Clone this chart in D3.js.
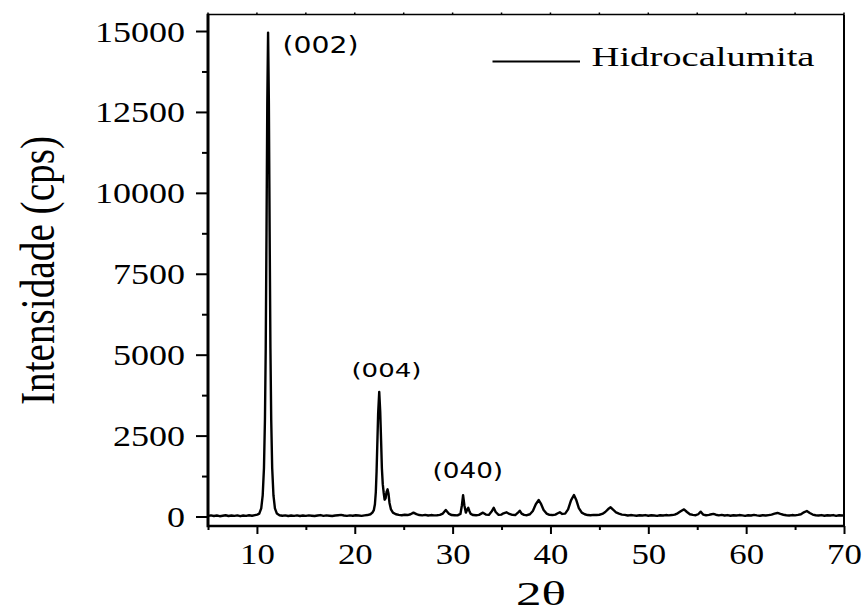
<!DOCTYPE html>
<html>
<head>
<meta charset="utf-8">
<script src="https://cdn.jsdelivr.net/npm/d3@7"></script>
<style>
  body { margin: 0; background: #fff; }
  svg { display: block; }
</style>
</head>
<body>
<svg id="chart" width="865" height="614"></svg>
<script>
// XRD scan of hydrocalumite: 2θ (degrees) and intensity (counts per second)
const twoTheta = [
  5.0, 5.3, 5.6, 5.9, 6.2, 6.5, 6.8, 7.1, 7.4, 7.7,
  8.0, 8.3, 8.6, 8.9, 9.2, 9.5, 9.8, 10.04, 10.24, 10.44,
  10.59, 10.72, 10.82, 10.9, 10.98, 11.06, 11.14, 11.22, 11.3, 11.38,
  11.46, 11.56, 11.69, 11.84, 12.04, 12.3, 12.6, 12.9, 13.2, 13.5,
  13.8, 14.1, 14.4, 14.7, 15.0, 15.3, 15.6, 15.9, 16.2, 16.5,
  16.8, 17.1, 17.4, 17.7, 18.0, 18.3, 18.6, 18.9, 19.2, 19.5,
  19.8, 20.1, 20.4, 20.7, 21.0, 21.3, 21.6, 21.8, 21.95, 22.06,
  22.15, 22.23, 22.31, 22.39, 22.5, 22.6, 22.69, 22.77, 22.86, 22.95,
  23.05, 23.15, 23.25, 23.35, 23.45, 23.55, 23.7, 23.9, 24.2, 24.5,
  24.8, 25.1, 25.4, 25.7, 26.0, 26.3, 26.6, 26.9, 27.2, 27.5,
  27.8, 28.1, 28.4, 28.7, 29.0, 29.3, 29.6, 29.9, 30.2, 30.5,
  30.8, 30.95, 31.07, 31.2, 31.35, 31.5, 31.6, 31.7, 31.85, 32.1,
  32.4, 32.7, 33.1, 33.4, 33.7, 34.0, 34.2, 34.4, 34.7, 35.0,
  35.2, 35.5, 35.8, 36.1, 36.4, 36.65, 36.86, 37.05, 37.3, 37.6,
  37.9, 38.2, 38.5, 38.8, 39.05, 39.3, 39.6, 39.9, 40.2, 40.5,
  40.75, 40.96, 41.2, 41.5, 41.8, 42.1, 42.4, 42.65, 42.9, 43.2,
  43.5, 43.8, 44.1, 44.4, 44.7, 45.0, 45.3, 45.6, 45.9, 46.15,
  46.4, 46.7, 47.0, 47.3, 47.6, 47.9, 48.2, 48.5, 48.8, 49.1,
  49.4, 49.7, 50.0, 50.3, 50.6, 50.9, 51.2, 51.5, 51.8, 52.1,
  52.4, 52.7, 53.0, 53.35, 53.65, 53.95, 54.25, 54.55, 54.85, 55.1,
  55.36, 55.6, 55.9, 56.2, 56.45, 56.66, 56.9, 57.2, 57.5, 57.8,
  58.1, 58.4, 58.7, 59.0, 59.3, 59.6, 59.9, 60.2, 60.5, 60.8,
  61.1, 61.4, 61.7, 62.0, 62.3, 62.6, 62.9, 63.2, 63.5, 63.8,
  64.1, 64.4, 64.7, 65.0, 65.3, 65.6, 65.9, 66.2, 66.5, 66.8,
  67.1, 67.4, 67.7, 68.0, 68.3, 68.6, 68.9, 69.2, 69.5, 69.8,
  70.0
];
const intensity = [
  20, 35, 15, 30, 10, 25, 40, 15, 30, 20,
  35, 10, 30, 20, 40, 25, 45, 60, 90, 250,
  650, 1500, 3000, 5200, 8800, 12800, 14950, 12800, 8800, 5200,
  3000, 1500, 650, 250, 90, 40, 25, 35, 15, 30,
  20, 35, 15, 30, 20, 35, 25, 15, 30, 45,
  20, 35, 25, 15, 30, 40, 50, 30, 20, 35,
  25, 40, 30, 20, 35, 45, 70, 120, 200, 380,
  750, 1400, 2300, 3200, 3850, 3250, 2350, 1500, 1000, 750,
  520, 560, 760, 840, 700, 420, 220, 120, 70, 50,
  40, 55, 45, 70, 120, 75, 45, 35, 50, 30,
  45, 35, 40, 50, 90, 200, 90, 45, 40, 35,
  80, 350, 660, 350, 120, 220, 270, 180, 80, 45,
  40, 50, 120, 60, 50, 160, 270, 140, 50, 60,
  100, 130, 80, 50, 45, 110, 180, 90, 50, 40,
  70, 170, 380, 510, 380, 200, 90, 50, 45, 60,
  100, 130, 80, 90, 220, 500, 665, 500, 260, 120,
  70, 45, 40, 50, 45, 55, 80, 140, 230, 285,
  210, 130, 90, 60, 50, 30, 45, 35, 25, 40,
  30, 45, 25, 40, 30, 20, 40, 30, 45, 35,
  45, 60, 100, 170, 220, 140, 70, 50, 40, 70,
  150, 60, 40, 50, 70, 80, 55, 35, 50, 30,
  45, 25, 40, 30, 45, 35, 20, 40, 30, 50,
  35, 25, 40, 30, 45, 60, 90, 110, 80, 55,
  40, 30, 45, 35, 50, 70, 130, 170, 110, 60,
  40, 30, 45, 25, 40, 30, 45, 20, 40, 30,
  35
];

const seriesName = "Hidrocalumita";
const xTicks = [10, 20, 30, 40, 50, 60, 70];
const xMinorTicks = [5, 15, 25, 35, 45, 55, 65];
const yTicks = [0, 2500, 5000, 7500, 10000, 12500, 15000];
const yMinorTicks = [1250, 3750, 6250, 8750, 11250, 13750];
const peakLabels = ["(002)", "(004)", "(040)"];
const peakPositions = [11.14, 22.5, 31.07];
const peakHeights = [14950, 3850, 660];

const serif = "'Liberation Serif', 'Times New Roman', serif";
const sans = "'DejaVu Sans', Verdana, sans-serif";

const svg = d3.select("#chart");
const x = d3.scaleLinear().domain([5, 70]).range([208, 844]);
const y = d3.scaleLinear().domain([-293, 15510]).range([526, 14.5]);

// widen glyphs horizontally by a factor k while keeping the anchor
function stretch(sel, k) {
  sel.each(function () {
    const w = this.getComputedTextLength();
    d3.select(this).attr("textLength", w * k).attr("lengthAdjust", "spacingAndGlyphs");
  });
}

// ---- bottom axis ----
const xAxis = svg.append("g").attr("transform", `translate(0,${y.range()[0]})`)
  .call(d3.axisBottom(x).tickValues(xTicks).tickSize(8).tickFormat(d3.format("d")));
xAxis.select(".domain").remove();
xAxis.selectAll(".tick line").attr("stroke", "#000").attr("stroke-width", 2);
xAxis.selectAll(".tick text")
  .attr("y", 38).attr("dy", 0)
  .attr("font-family", serif).attr("font-size", 29).attr("fill", "#000")
  .call(stretch, 1.2);
const xMinor = svg.append("g").attr("transform", `translate(0,${y.range()[0]})`)
  .call(d3.axisBottom(x).tickValues(xMinorTicks).tickSize(4).tickFormat(""));
xMinor.select(".domain").remove();
xMinor.selectAll(".tick line").attr("stroke", "#000").attr("stroke-width", 2);

// small marks along the top edge
svg.append("g").selectAll("line").data(xTicks.concat(xMinorTicks)).join("line")
  .attr("x1", d => x(d)).attr("x2", d => x(d))
  .attr("y1", y.range()[1]).attr("y2", y.range()[1] - 2)
  .attr("stroke", "#000").attr("stroke-width", 1.5);

// ---- left axis ----
const yAxis = svg.append("g").attr("transform", `translate(${x.range()[0]},0)`)
  .call(d3.axisLeft(y).tickValues(yTicks).tickSize(12).tickPadding(11).tickFormat(d3.format("d")));
yAxis.select(".domain").remove();
yAxis.selectAll(".tick line").attr("stroke", "#000").attr("stroke-width", 2);
yAxis.selectAll(".tick text")
  .attr("dy", 10).attr("x", -23)
  .attr("font-family", serif).attr("font-size", 30).attr("fill", "#000")
  .call(stretch, 1.2);
const yMinor = svg.append("g").attr("transform", `translate(${x.range()[0]},0)`)
  .call(d3.axisLeft(y).tickValues(yMinorTicks).tickSize(6).tickFormat(""));
yMinor.select(".domain").remove();
yMinor.selectAll(".tick line").attr("stroke", "#000").attr("stroke-width", 2);

// ---- frame ----
const [x0, x1] = x.range();
const [yb, yt] = y.range();
svg.append("line").attr("x1", x0).attr("x2", x1).attr("y1", yt).attr("y2", yt)
  .attr("stroke", "#000").attr("stroke-width", 1.5);
svg.append("line").attr("x1", x1).attr("x2", x1).attr("y1", yt).attr("y2", yb)
  .attr("stroke", "#000").attr("stroke-width", 2);
svg.append("line").attr("x1", x0).attr("x2", x1).attr("y1", yb).attr("y2", yb)
  .attr("stroke", "#000").attr("stroke-width", 2.5);
svg.append("line").attr("x1", x0).attr("x2", x0).attr("y1", yt - 0.75).attr("y2", yb + 1.25)
  .attr("stroke", "#000").attr("stroke-width", 3);

// ---- diffractogram ----
const scan = twoTheta.map((t, i) => [t, intensity[i]]);
svg.append("path").datum(scan)
  .attr("fill", "none").attr("stroke", "#000").attr("stroke-width", 2.4)
  .attr("stroke-linejoin", "round")
  .attr("d", d3.line().x(d => x(d[0])).y(d => y(d[1])));

// ---- reflection labels ----
const labelStyle = [
  { dx: 14.5, dy: 20.5, size: 23, width: 76 },
  { dx: -27.8, dy: -15, size: 20, width: 70 },
  { dx: -30.6, dy: -17, size: 21, width: 70.6 }
];
svg.append("g").selectAll("text").data(peakLabels).join("text")
  .attr("x", (d, i) => x(peakPositions[i]) + labelStyle[i].dx)
  .attr("y", (d, i) => y(peakHeights[i]) + labelStyle[i].dy)
  .attr("font-family", sans)
  .attr("font-size", (d, i) => labelStyle[i].size)
  .attr("textLength", (d, i) => labelStyle[i].width)
  .attr("lengthAdjust", "spacingAndGlyphs")
  .attr("fill", "#000")
  .text(d => d);

// ---- legend ----
svg.append("line").attr("x1", 492.5).attr("x2", 580).attr("y1", 61.5).attr("y2", 61.5)
  .attr("stroke", "#000").attr("stroke-width", 2.2);
svg.append("text").attr("x", 591.5).attr("y", 66)
  .attr("font-family", serif).attr("font-size", 27)
  .attr("textLength", 223).attr("lengthAdjust", "spacingAndGlyphs")
  .attr("fill", "#000").text(seriesName);

// ---- axis titles ----
svg.append("text")
  .attr("transform", "translate(53.5,270.5) rotate(-90)")
  .attr("text-anchor", "middle")
  .attr("font-family", serif).attr("font-size", 48)
  .attr("textLength", 269).attr("lengthAdjust", "spacingAndGlyphs")
  .attr("fill", "#000").text("Intensidade (cps)");
svg.append("text")
  .attr("x", 541).attr("y", 605)
  .attr("text-anchor", "middle")
  .attr("font-family", serif).attr("font-size", 33)
  .attr("textLength", 50).attr("lengthAdjust", "spacingAndGlyphs")
  .attr("fill", "#000").text("2θ");
</script>
</body>
</html>
